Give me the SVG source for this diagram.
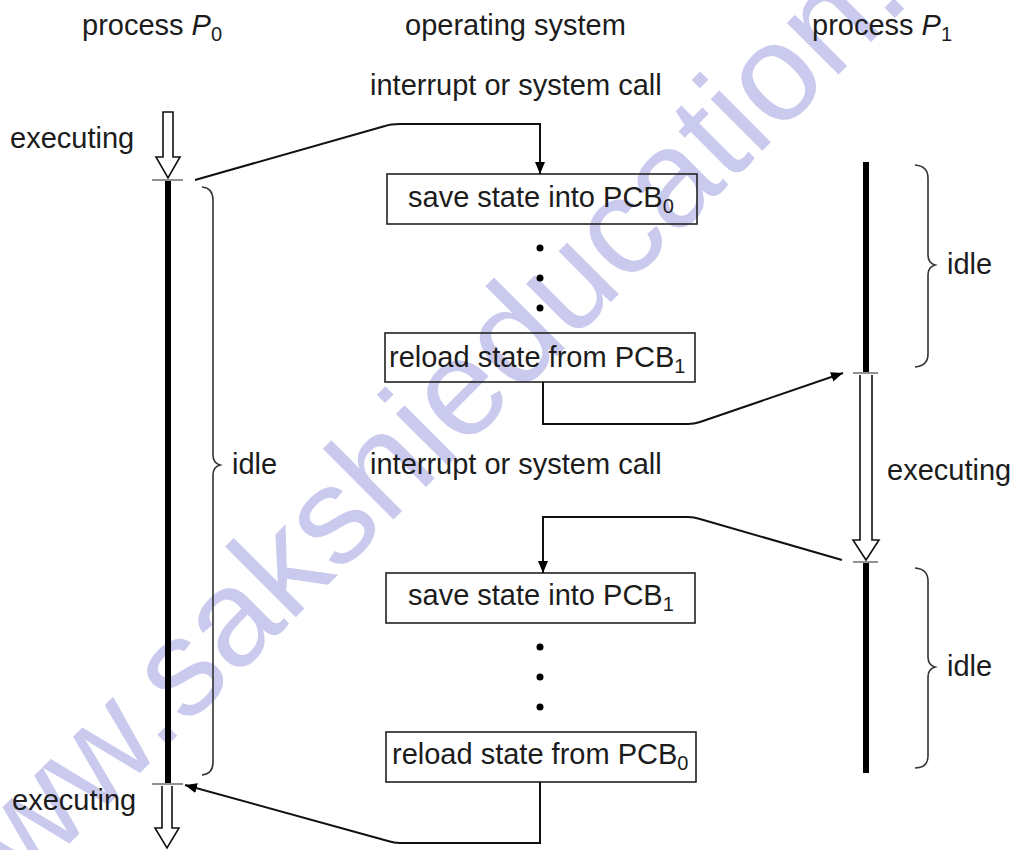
<svg xmlns="http://www.w3.org/2000/svg" width="1014" height="850" viewBox="0 0 1014 850">
  <style>
    text { font-family: "Liberation Sans", Arial, sans-serif; font-size: 29px; fill: #1c1c1c; }
    .sub { font-size: 20px; }
    .wm { font-size: 138px; fill: #cacaee; }
    .box { fill: none; stroke: #222; stroke-width: 1.6; }
    .conn { fill: none; stroke: #111; stroke-width: 2; }
    .life { stroke: #000; stroke-width: 6; }
    .tick { stroke: #777; stroke-width: 1.6; }
    .hollow { fill: #fff; stroke: #111; stroke-width: 1.6; }
    .brace { fill: none; stroke: #333; stroke-width: 1.6; }
    .dot { fill: #000; }
  </style>
  <defs>
    <marker id="arr" viewBox="0 0 12 10" refX="12" refY="5" markerWidth="12" markerHeight="10" markerUnits="userSpaceOnUse" orient="auto">
      <path d="M0,0 L12,5 L0,10 Z" fill="#000"/>
    </marker>
  </defs>

  <rect width="1014" height="850" fill="#fff"/>

  <!-- site mark across the page -->
  <text class="wm" x="-47" y="960" transform="rotate(-45 -47 960)">www.sakshieducation.com</text>

  <!-- column headings -->
  <g id="headings">
    <text x="82" y="35">process <tspan font-style="italic">P</tspan><tspan class="sub" dy="6">0</tspan></text>
    <text x="405" y="35">operating system</text>
    <text x="812" y="35">process <tspan font-style="italic">P</tspan><tspan class="sub" dy="6">1</tspan></text>
  </g>

  <!-- process P0 timeline -->
  <g id="p0">
    <path class="hollow" d="M163,112 H173 V157 H180 L168,178 L156,157 H163 Z"/>
    <line class="tick" x1="152" y1="180" x2="183" y2="180"/>
    <line class="life" x1="168" y1="181" x2="168" y2="783"/>
    <line class="tick" x1="152" y1="784" x2="183" y2="784"/>
    <path class="hollow" d="M162,786 V828 H155 L167,848 L179,828 H172 V786"/>
    <path class="brace" d="M202,187 Q213,188 213,200 V455 Q213,463 220,465 Q213,467 213,475 V762 Q213,774 202,775"/>
    <text x="10" y="148">executing</text>
    <text x="232" y="474">idle</text>
    <text x="12" y="810">executing</text>
  </g>

  <!-- process P1 timeline -->
  <g id="p1">
    <line class="life" x1="866" y1="162" x2="866" y2="372"/>
    <line class="tick" x1="853" y1="373" x2="878" y2="373"/>
    <path class="hollow" d="M860,375 V540 H853 L866,560 L879,540 H872 V375"/>
    <line class="tick" x1="853" y1="562" x2="878" y2="562"/>
    <line class="life" x1="866" y1="563" x2="866" y2="773"/>
    <path class="brace" d="M915,165 Q928,166 928,178 V255 Q928,263 935,265 Q928,267 928,275 V354 Q928,366 915,367"/>
    <path class="brace" d="M915,568 Q928,569 928,581 V657 Q928,665 935,667 Q928,669 928,677 V756 Q928,768 915,768"/>
    <text x="947" y="274">idle</text>
    <text x="887" y="480">executing</text>
    <text x="947" y="676">idle</text>
  </g>

  <!-- operating system steps -->
  <g id="os-labels">
    <text x="370" y="95">interrupt or system call</text>
    <text x="370" y="474">interrupt or system call</text>
  </g>

  <g id="save0">
    <rect class="box" x="387" y="174" width="310" height="50"/>
    <text x="408" y="207">save state into PCB<tspan class="sub" dy="6">0</tspan></text>
  </g>
  <g id="dots1">
    <circle class="dot" cx="540" cy="248" r="3.5"/>
    <circle class="dot" cx="540" cy="278" r="3.5"/>
    <circle class="dot" cx="540" cy="308" r="3.5"/>
  </g>
  <g id="reload1">
    <rect class="box" x="385" y="333" width="310" height="49"/>
    <text x="389" y="367">reload state from PCB<tspan class="sub" dy="6">1</tspan></text>
  </g>

  <g id="save1">
    <rect class="box" x="386" y="573" width="309" height="50"/>
    <text x="408" y="605">save state into PCB<tspan class="sub" dy="6">1</tspan></text>
  </g>
  <g id="dots2">
    <circle class="dot" cx="540" cy="647" r="3.5"/>
    <circle class="dot" cx="540" cy="677" r="3.5"/>
    <circle class="dot" cx="540" cy="707" r="3.5"/>
  </g>
  <g id="reload0">
    <rect class="box" x="386" y="732" width="310" height="50"/>
    <text x="392" y="764">reload state from PCB<tspan class="sub" dy="6">0</tspan></text>
  </g>

  <!-- control transfers -->
  <g id="connectors">
    <path class="conn" d="M195,180 L385,126 Q391,124 400,124 H540 V174" marker-end="url(#arr)"/>
    <path class="conn" d="M543,382 V424 H688 Q694,424 700,422 L843,373" marker-end="url(#arr)"/>
    <path class="conn" d="M842,560 L700,519 Q694,517 688,517 H543 V573" marker-end="url(#arr)"/>
    <path class="conn" d="M540,782 V843 H400 Q394,843 388,841 L185,785" marker-end="url(#arr)"/>
  </g>
</svg>
